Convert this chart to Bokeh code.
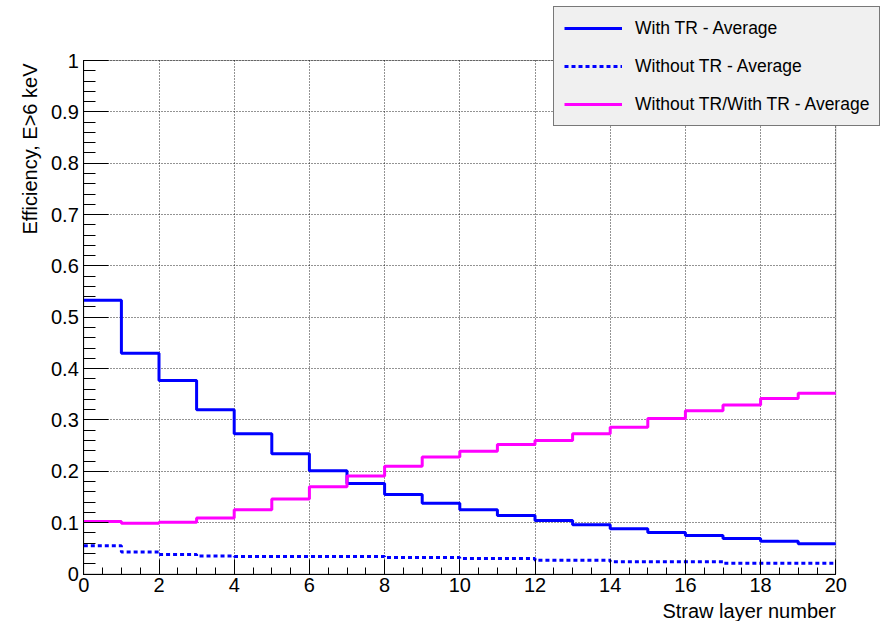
import math
from bokeh.plotting import figure
from bokeh.models import (SingleIntervalTicker, CustomJSTickFormatter, Label, Legend, LegendItem,
                          Range1d, LinearAxis, Grid, BoxAnnotation)
from bokeh.embed import file_html
from bokeh.resources import INLINE

# ---- data ----
bin_edges = list(range(0, 21))
with_tr = [0.533, 0.430, 0.377, 0.320, 0.273, 0.234, 0.201, 0.176, 0.155, 0.138,
           0.125, 0.114, 0.104, 0.096, 0.088, 0.081, 0.075, 0.069, 0.064, 0.059]
without_tr = [0.055, 0.043, 0.038, 0.035, 0.034, 0.034, 0.034, 0.034, 0.032, 0.032,
              0.030, 0.030, 0.027, 0.027, 0.024, 0.024, 0.024, 0.021, 0.021, 0.021]
ratio = [0.102, 0.099, 0.101, 0.109, 0.125, 0.146, 0.170, 0.191, 0.210, 0.228,
         0.239, 0.252, 0.260, 0.273, 0.286, 0.303, 0.318, 0.329, 0.342, 0.352]
labels = ["With TR - Average", "Without TR - Average", "Without TR/With TR - Average"]
x_title = "Straw layer number"
y_title = "Efficiency, E>6 keV"
x_lim = (0, 20)
y_lim = (0, 1)

FONT = "Liberation Sans"
W, H = 887, 621
# plot-area pixel box (from the canvas top-left)
FL, FR, FT, FB = 83.3, 835.3, 60.0, 573.5

sx = (FR - FL) / (x_lim[1] - x_lim[0])
sy = (FB - FT) / (y_lim[1] - y_lim[0])
xr = Range1d(x_lim[0] - FL / sx, x_lim[1] + (W - FR) / sx)
yr = Range1d(y_lim[0] - (H - FB) / sy, y_lim[1] + FT / sy)

p = figure(width=W, height=H, output_backend="svg", toolbar_location=None,
           x_range=xr, y_range=yr, x_axis_type=None, y_axis_type=None,
           min_border=0, min_border_left=0, min_border_right=0, min_border_top=0, min_border_bottom=0)
p.background_fill_color = "white"
p.border_fill_color = "white"
p.outline_line_color = None

xticker = SingleIntervalTicker(interval=2, num_minor_ticks=4)
yticker = SingleIntervalTicker(interval=0.1, num_minor_ticks=5)

xaxis = LinearAxis(ticker=xticker, fixed_location=y_lim[0], bounds=x_lim)
yaxis = LinearAxis(ticker=yticker, fixed_location=x_lim[0], bounds=y_lim,
                   formatter=CustomJSTickFormatter(code="return tick.toFixed(1).replace(/\\.0$/, '');"))
for ax in (xaxis, yaxis):
    ax.axis_line_color = "black"
    ax.major_tick_line_color = "black"
    ax.minor_tick_line_color = "black"
    ax.major_tick_out = 0
    ax.minor_tick_out = 0
    ax.major_label_text_font = FONT
    ax.major_label_text_font_size = "20px"
    ax.major_label_text_color = "black"
xaxis.major_tick_in = 15
xaxis.minor_tick_in = 7
yaxis.major_tick_in = 25
yaxis.minor_tick_in = 12
xaxis.major_label_standoff = 4
yaxis.major_label_standoff = 5
p.add_layout(xaxis, "below")
p.add_layout(yaxis, "left")

# grid (dotted) restricted to the plot box
for dim, tk, b, cb in ((0, xticker, x_lim, y_lim), (1, yticker, y_lim, x_lim)):
    g = Grid(dimension=dim, ticker=tk, bounds=b, cross_bounds=cb)
    g.grid_line_color = "black"
    g.grid_line_dash = "1 2"
    g.grid_line_width = 1
    g.grid_line_alpha = 0.85
    p.add_layout(g)

# frame box
p.add_layout(BoxAnnotation(left=x_lim[0], right=x_lim[1], bottom=y_lim[0], top=y_lim[1],
                           fill_alpha=0, line_color="black", line_width=1, level="underlay"))

# step histograms
def edges_y(vals):
    return vals + [vals[-1]]

r1 = p.step(bin_edges, edges_y(with_tr), mode="after", line_color="#0000ff", line_width=3)
r2 = p.step(bin_edges, edges_y(without_tr), mode="after", line_color="#0000ff", line_width=3,
            line_dash="4 3")
r3 = p.step(bin_edges, edges_y(ratio), mode="after", line_color="#ff00ff", line_width=3)

# axis titles
p.add_layout(Label(x=x_lim[1], y=y_lim[0] - 36.5 / sy, text=x_title, text_align="right",
                   text_baseline="middle", text_font=FONT, text_font_size="20px",
                   text_color="black"))
p.add_layout(Label(x=x_lim[0] - 54 / sx, y=y_lim[1] - 3 / sy, text=y_title, angle=math.pi / 2,
                   text_align="right", text_baseline="middle", text_font=FONT,
                   text_font_size="20px", text_color="black"))

# legend
legend = Legend(items=[LegendItem(label=labels[0], renderers=[r1]),
                       LegendItem(label=labels[1], renderers=[r2]),
                       LegendItem(label=labels[2], renderers=[r3])],
                location=(553, H - 126))
legend.label_text_font = FONT
legend.label_text_font_size = "17.5px"
legend.label_text_color = "black"
legend.background_fill_color = "#f0f0f0"
legend.background_fill_alpha = 1
legend.border_line_color = "black"
legend.border_line_width = 1
legend.padding = 10
legend.spacing = 16
legend.margin = 0
legend.glyph_width = 58
legend.glyph_height = 22
legend.label_height = 22
legend.label_standoff = 13
legend.label_width = 234
p.add_layout(legend)

open("out.html", "w").write(file_html(p, INLINE))
